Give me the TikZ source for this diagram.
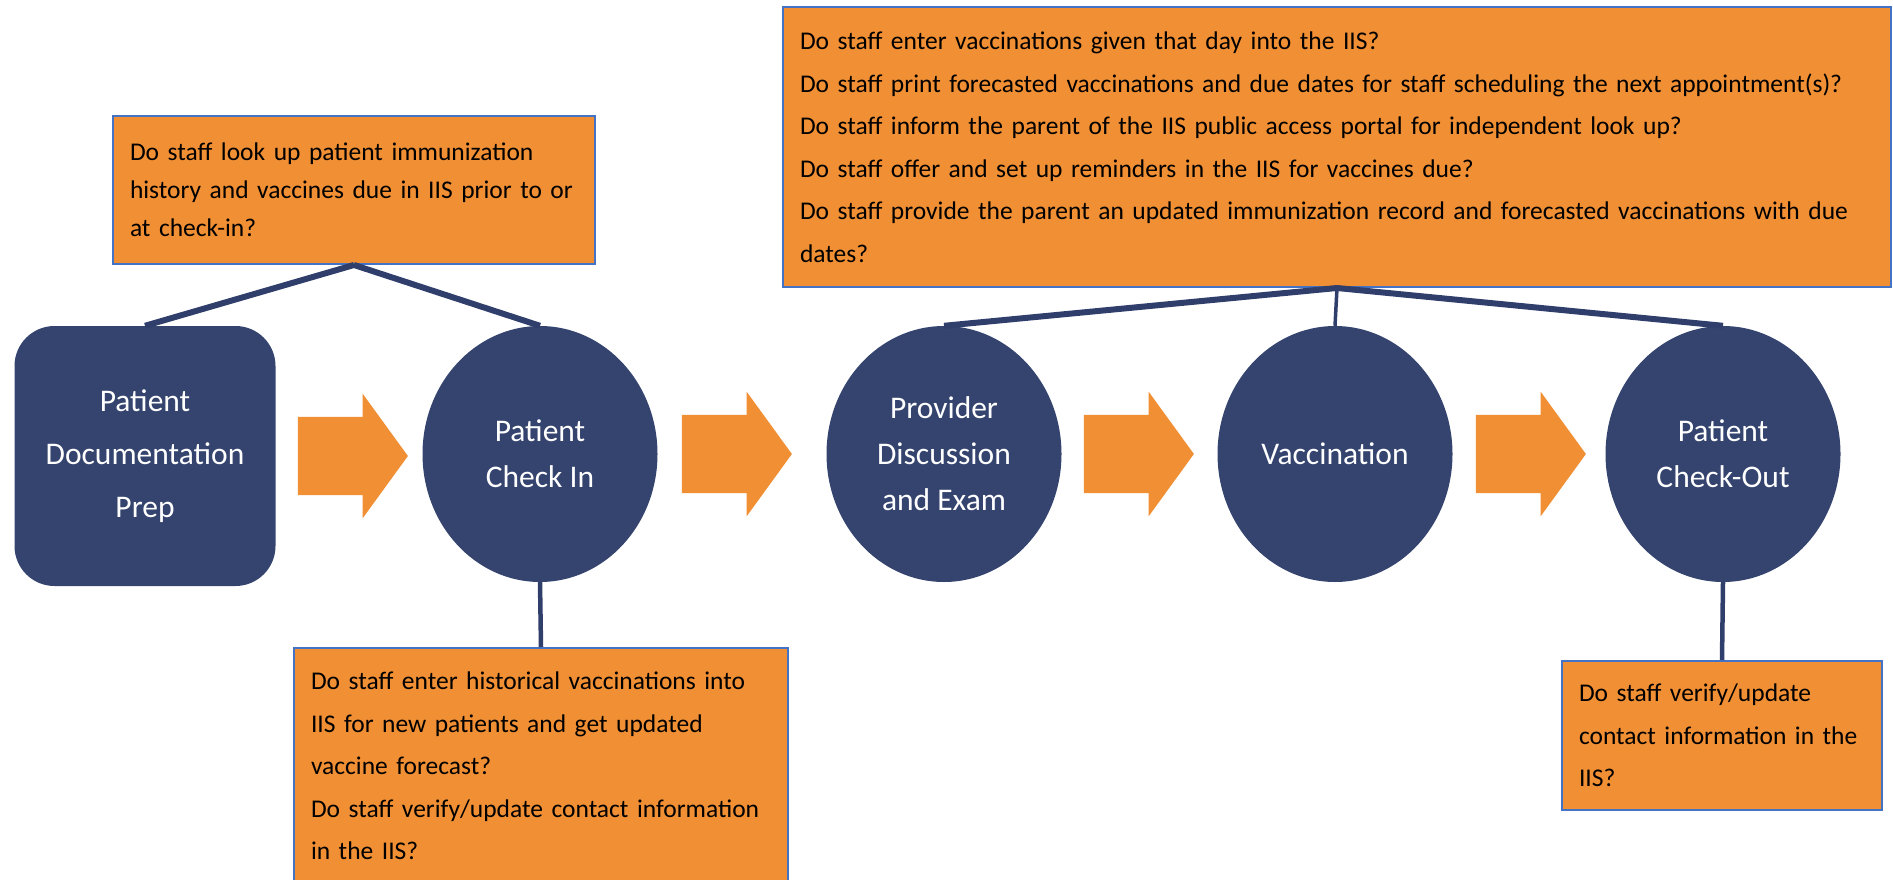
\documentclass[tikz,border=0pt]{standalone}
\usepackage{fontspec}
\setmainfont{Carlito}
\usetikzlibrary{positioning, shapes.geometric, shapes.arrows}

\definecolor{navy}{HTML}{34446E}
\definecolor{linknavy}{HTML}{2F3E6B}
\definecolor{qorange}{HTML}{F18F34}
\definecolor{qborder}{HTML}{4472C4}

\tikzset{
  stepcircle/.style={ellipse, fill=navy, text=white, minimum width=235pt,
    minimum height=256pt, inner sep=0pt, align=center,
    font=\fontsize{31.5}{46}\selectfont},
  stepbox/.style={stepcircle, rectangle, rounded corners=40pt,
    minimum width=261pt, minimum height=260pt,
    font=\fontsize{31.5}{53}\selectfont},
  question/.style={anchor=north west, fill=qorange, draw=qborder, line width=2pt,
    align=left, inner xsep=17pt, inner ysep=0pt,
    font=\fontsize{25.5}{42.5}\selectfont},
  flowarrow/.style={single arrow, fill=qorange, minimum height=110pt,
    inner xsep=0pt, inner ysep=39pt, single arrow head extend=23pt,
    single arrow tip angle=108},
  link/.style={draw=linknavy, line width=6pt}
}

\begin{document}
\begin{tikzpicture}[x=1pt, y=-1pt]
  \useasboundingbox (0,0) rectangle (1893,880);

  % steps of the visit
  \node[stepbox] (prep) at (145,456) {Patient\\Documentation\\Prep};
  \node[stepcircle] (checkin) at (540,454) {Patient\\Check In};
  \node[stepcircle] (provider) at (944,454) {Provider\\Discussion\\and Exam};
  \node[stepcircle] (vacc) at (1335,454) {Vaccination};
  \node[stepcircle] (checkout) at (1723,454) {Patient\\Check-Out};

  % orange arrows
  \node[flowarrow, right=22pt of prep] (a1) {};
  \node[flowarrow, right=24pt of checkin] (a2) {};
  \node[flowarrow, right=22pt of provider] (a3) {};
  \node[flowarrow, right=23pt of vacc] (a4) {};

  % questions
  \node[question, text width=448pt, minimum height=148pt,
    font=\fontsize{25.5}{38}\selectfont] (qcheckin) at (112,115)
    {Do staff look up patient immunization\\
     history and vaccines due in IIS prior to or\\
     at check-in?};
  \node[question, text width=460pt, minimum height=236pt] (qhist) at (293,647)
    {Do staff enter historical vaccinations into\\
     IIS for new patients and get updated\\
     vaccine forecast?\\
     Do staff verify/update contact information\\
     in the IIS?};
  \node[question, text width=1074pt, minimum height=280pt] (qvisit) at (782,6)
    {Do staff enter vaccinations given that day into the IIS?\\
     Do staff print forecasted vaccinations and due dates for staff scheduling the next appointment(s)?\\
     Do staff inform the parent of the IIS public access portal for independent look up?\\
     Do staff offer and set up reminders in the IIS for vaccines due?\\
     Do staff provide the parent an updated immunization record and forecasted vaccinations with due\\
     dates?};
  \node[question, text width=286pt, minimum height=149pt] (qcontact) at (1561,660)
    {Do staff verify/update\\
     contact information in the\\
     IIS?};

  % connectors
  \draw[link] (qcheckin.south) -- (prep.north);
  \draw[link] (qcheckin.south) -- (checkin.north);
  \draw[link, line width=4.5pt] (checkin.south) -- (qhist.north);
  \draw[link] (qvisit.south) -- (provider.north);
  \draw[link, line width=3.5pt] (qvisit.south) -- (vacc.north);
  \draw[link] (qvisit.south) -- (checkout.north);
  \draw[link, line width=4.5pt] (checkout.south) -- (qcontact.north);
\end{tikzpicture}
\end{document}
